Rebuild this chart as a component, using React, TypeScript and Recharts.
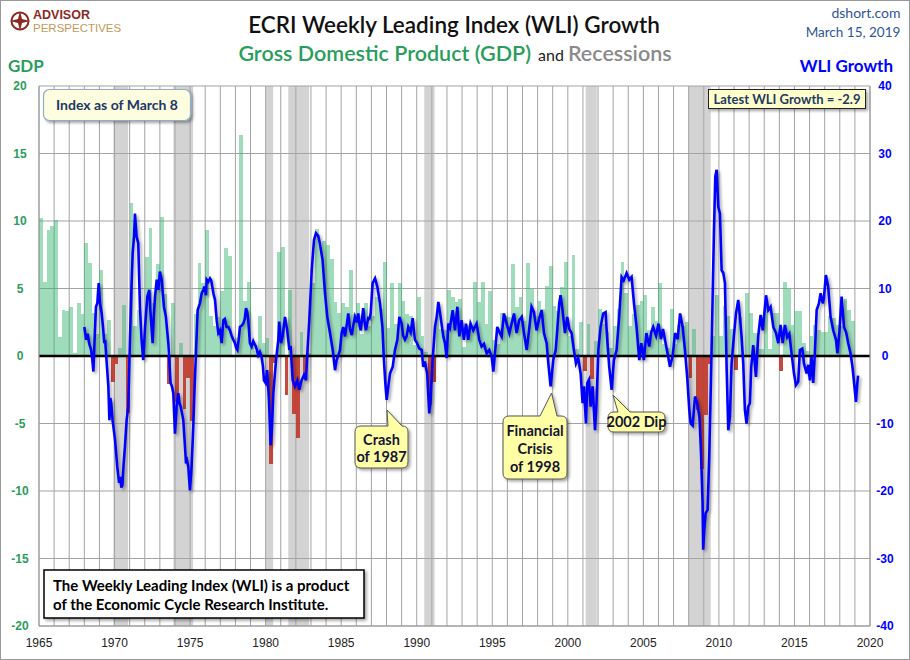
import React from 'react';
import {
  ComposedChart,
  Bar,
  Line,
  XAxis,
  YAxis,
  CartesianGrid,
  ReferenceArea,
  ReferenceLine,
} from 'recharts';

// ---------- DATA ----------
const START_YEAR = 1965;

// Real GDP growth, quarterly annualized (%), 1965Q1 ...
const gdp1965to1974 = [
  10.2, 5.5, 9.3, 9.6, 10.1, 1.4, 3.4, 3.3, 3.6, 0.2, 3.9, 3.1, 8.4, 6.9, 3.2, 1.6,
  6.4, 1.6, 2.7, -1.9, -0.6, 0.6, 3.8, -4.2, 11.3, 2.2, 3.4, 1.1, 7.3, 9.5, 3.9, 6.8,
  10.3, 4.6, -2.1, 3.9, -3.4, 1.0, -3.9, -1.6,
];
const gdp1975to1984 = [
  -4.8, 3.1, 6.9, 5.4, 9.3, 3.0, 2.2, 2.9, 4.8, 8.0, 7.4, 0.0, 1.3, 16.4, 4.1, 5.5,
  0.7, 0.4, 3.0, 1.0, 1.3, -8.0, -0.5, 7.7, 8.1, -2.9, 4.9, -4.3, -6.1, 1.8, -1.5, 0.2,
  5.4, 9.4, 8.1, 8.5, 8.2, 7.2, 4.0, 3.2,
];
const gdp1985to1994 = [
  3.9, 3.6, 6.4, 3.1, 3.9, 1.6, 3.9, 2.2, 3.0, 4.4, 3.5, 7.0, 2.1, 5.4, 2.4, 5.4,
  4.1, 3.1, 3.0, 0.8, 4.4, 1.5, 0.3, -3.6, -1.9, 3.2, 2.0, 1.9, 4.9, 4.4, 4.0, 4.2,
  0.7, 2.3, 1.9, 5.5, 4.0, 5.5, 2.4, 4.8,
];
const gdp1995to2004 = [
  1.2, 0.9, 3.2, 3.0, 2.9, 6.8, 3.6, 4.4, 2.6, 6.9, 5.0, 3.0, 4.1, 3.5, 5.2, 6.7,
  3.7, 3.3, 5.1, 7.0, 1.5, 7.5, 0.5, 2.5, -1.1, 2.4, -1.7, 1.1, 3.5, 2.4, 1.8, 0.6,
  2.2, 3.5, 7.0, 4.7, 2.2, 3.1, 3.8, 4.1,
];
const gdp2005to2018 = [
  4.5, 1.9, 3.6, 2.6, 5.4, 0.9, 0.6, 3.5, 0.9, 2.3, 2.2, 2.5, -1.6, 2.0, -4.0, -8.4,
  -4.4, -0.6, 1.5, 4.5, 1.5, 3.7, 3.0, 2.0, -1.0, 2.9, -0.1, 4.7, 3.2, 1.7, 0.5, 0.5,
  3.6, 0.5, 3.2, 3.2, -1.1, 5.5, 5.0, 2.3, 3.3, 3.3, 1.0, 0.4, 1.5, 2.3, 1.9, 1.8,
  1.8, 3.0, 2.8, 2.3, 2.2, 4.2, 3.4, 2.6,
];

// ECRI WLI growth (%), [year, value]
const wli1968to1975: [number, number][] = [
  [1968.0, 4.3], [1968.12, 2.4], [1968.22, 3.3], [1968.33, 1.8], [1968.44, 1.0], [1968.52, -0.3],
  [1968.6, -2.3], [1968.68, 2.5], [1968.77, 7.3], [1968.86, 7.8], [1968.95, 10.8], [1969.04, 7.8],
  [1969.15, 6.3], [1969.25, 4.0], [1969.32, 1.9], [1969.38, 2.4], [1969.48, -1.0], [1969.59, -4.5],
  [1969.66, -9.5], [1969.72, -6.2], [1969.78, -7.0], [1969.87, -9.5], [1970.03, -12.4], [1970.18, -16.4],
  [1970.3, -18.8], [1970.38, -17.9], [1970.45, -19.5], [1970.52, -19.1], [1970.6, -16.0], [1970.69, -13.4],
  [1970.8, -9.5], [1970.91, -7.5], [1971.02, 2.4], [1971.13, 10.8], [1971.2, 15.2], [1971.29, 17.7],
  [1971.35, 21.1], [1971.4, 19.5], [1971.46, 17.7], [1971.57, 16.7], [1971.68, 7.3], [1971.79, 2.4],
  [1971.9, -0.6], [1972.02, 4.3], [1972.17, 8.8], [1972.3, 9.8], [1972.37, 6.8], [1972.52, 1.9],
  [1972.6, 6.0], [1972.68, 8.8], [1972.79, 11.3], [1972.9, 9.8], [1973.0, 12.5], [1973.12, 11.3],
  [1973.27, 7.3], [1973.4, 5.8], [1973.56, 1.9], [1973.71, -4.0], [1973.8, -4.5], [1973.89, -5.5],
  [1974.0, -11.5], [1974.11, -7.5], [1974.22, -5.5], [1974.3, -7.0], [1974.38, -7.5], [1974.55, -9.5],
  [1974.65, -13.0], [1974.73, -15.9], [1974.8, -15.5], [1974.88, -16.4], [1974.99, -19.9], [1975.1, -16.4],
  [1975.21, -10.5], [1975.3, -4.5], [1975.37, -0.6], [1975.5, 6.8], [1975.65, 7.8], [1975.77, 9.3],
  [1975.88, 9.8],
];
const wli1976to1985: [number, number][] = [
  [1975.94, 10.3], [1976.05, 9.0], [1976.1, 11.3], [1976.2, 11.0], [1976.32, 11.5], [1976.4, 11.2],
  [1976.54, 9.3], [1976.65, 8.3], [1976.76, 5.3], [1976.87, 3.4], [1976.98, 3.8], [1977.09, 1.9],
  [1977.2, 5.3], [1977.3, 5.5], [1977.42, 4.3], [1977.54, 4.3], [1977.64, 3.8], [1977.75, 3.0],
  [1977.86, 2.4], [1977.97, 1.9], [1978.05, 1.2], [1978.13, 0.9], [1978.22, 2.5], [1978.3, 4.3],
  [1978.42, 4.5], [1978.52, 4.8], [1978.62, 5.5], [1978.7, 7.1], [1978.78, 6.5], [1978.85, 5.3],
  [1978.96, 1.9], [1979.07, 1.4], [1979.18, 2.2], [1979.28, 1.7], [1979.36, 1.4], [1979.51, 0.1],
  [1979.62, 0.6], [1979.73, -0.1], [1979.82, -1.5], [1979.89, -3.6], [1980.0, -4.0], [1980.1, -2.1],
  [1980.22, -6.5], [1980.33, -13.2], [1980.41, -11.0], [1980.51, -5.5], [1980.6, -3.0], [1980.69, -0.6],
  [1980.84, 2.4], [1980.9, 5.1], [1981.02, 1.9], [1981.13, 3.0], [1981.28, 5.8], [1981.43, 3.8],
  [1981.57, 0.9], [1981.65, 1.5], [1981.79, -3.6], [1981.94, -4.5], [1982.1, -3.6], [1982.23, -5.0],
  [1982.38, -3.6], [1982.54, -2.8], [1982.67, -3.6], [1982.76, 0.4], [1982.89, 5.3], [1983.05, 12.7],
  [1983.2, 17.2], [1983.33, 18.2], [1983.48, 17.8], [1983.59, 16.7], [1983.77, 14.2], [1983.93, 9.3],
  [1984.08, 5.8], [1984.26, 3.4], [1984.44, 0.9], [1984.59, -2.1], [1984.7, -0.6], [1984.8, 0.0],
  [1984.92, 0.9], [1985.03, 3.4], [1985.14, 4.3], [1985.25, 2.9], [1985.36, 4.5], [1985.47, 6.3],
  [1985.58, 4.0], [1985.7, 3.1], [1985.8, 4.5], [1985.91, 5.8],
];
const wli1986to1995: [number, number][] = [
  [1986.03, 5.0], [1986.13, 6.3], [1986.22, 4.5], [1986.3, 3.8], [1986.38, 5.5], [1986.46, 7.1],
  [1986.55, 5.0], [1986.64, 3.8], [1986.72, 4.8], [1986.79, 5.6], [1986.87, 5.5], [1986.95, 6.3],
  [1987.08, 10.8], [1987.24, 11.5], [1987.39, 10.3], [1987.57, 7.8], [1987.73, 4.3], [1987.83, -0.6],
  [1987.92, -4.0], [1988.01, -6.5], [1988.12, -4.5], [1988.23, -2.6], [1988.41, -1.6], [1988.56, 0.9],
  [1988.72, 2.4], [1988.85, 5.8], [1989.0, 4.8], [1989.1, 3.0], [1989.22, 2.4], [1989.33, 2.9],
  [1989.44, 4.3], [1989.6, 3.5], [1989.73, 5.6], [1989.88, 2.4], [1990.0, 2.0], [1990.17, 1.1],
  [1990.33, 0.9], [1990.43, -1.6], [1990.54, -0.8], [1990.69, -2.6], [1990.83, -8.5], [1990.92, -6.5],
  [1991.05, -0.6], [1991.21, 4.3], [1991.32, 5.8], [1991.43, 8.0], [1991.58, 5.8], [1991.76, 2.9],
  [1991.87, 1.9], [1991.98, -0.3], [1992.09, 4.8], [1992.2, 4.2], [1992.38, 6.8], [1992.53, 3.8],
  [1992.69, 7.3], [1992.82, 2.9], [1992.97, 5.3], [1993.12, 2.4], [1993.26, 4.8], [1993.41, 2.4],
  [1993.56, 4.8], [1993.74, 3.8], [1993.96, 4.8], [1994.14, 2.4], [1994.29, 1.4], [1994.45, 1.8],
  [1994.63, 0.4], [1994.8, 0.9], [1994.96, -0.1], [1995.07, -2.3], [1995.18, 0.5], [1995.33, 4.3],
  [1995.48, 3.5], [1995.62, 2.9], [1995.77, 6.3], [1995.95, 4.8],
];
const wli1996to2005: [number, number][] = [
  [1996.13, 3.4], [1996.28, 4.8], [1996.44, 6.3], [1996.61, 3.4], [1996.78, 5.3], [1996.95, 5.8],
  [1997.1, 3.4], [1997.28, 0.9], [1997.46, 4.3], [1997.6, 7.3], [1997.76, 6.5], [1997.93, 3.8],
  [1998.1, 5.5], [1998.27, 6.8], [1998.42, 3.4], [1998.6, 1.9], [1998.71, -1.1], [1998.86, -4.5],
  [1999.04, -0.6], [1999.2, 0.9], [1999.3, 3.8], [1999.43, 7.8], [1999.52, 9.0], [1999.65, 6.8],
  [1999.81, 3.4], [1999.96, 5.8], [2000.1, 4.0], [2000.25, 3.4], [2000.4, 0.9], [2000.54, -1.1],
  [2000.69, -0.3], [2000.85, -2.6], [2000.98, -7.0], [2001.07, -4.5], [2001.2, -10.0], [2001.29, -4.0],
  [2001.4, -3.5], [2001.51, -7.5], [2001.64, -4.5], [2001.8, -11.0], [2001.91, -6.5], [2002.02, 0.9],
  [2002.17, 4.3], [2002.34, 6.3], [2002.5, 6.5], [2002.61, 2.4], [2002.74, -1.6], [2002.9, -5.0],
  [2003.05, -0.6], [2003.23, 0.9], [2003.4, 5.8], [2003.56, 11.7], [2003.7, 11.2], [2003.89, 12.3],
  [2004.07, 11.3], [2004.22, 11.7], [2004.38, 7.8], [2004.55, 4.3], [2004.73, -0.6], [2004.86, 1.9],
  [2005.03, -0.6], [2005.2, 3.4], [2005.39, 1.4], [2005.52, 3.5], [2005.65, 4.3], [2005.84, 3.0],
];
const wli2006to2012: [number, number][] = [
  [2006.0, 4.8], [2006.17, 2.5], [2006.3, 4.0], [2006.43, 2.4], [2006.6, 0.4], [2006.76, -1.6],
  [2006.94, 0.0], [2007.1, 3.4], [2007.27, 2.5], [2007.43, 6.3], [2007.6, 4.3], [2007.75, 0.9],
  [2007.9, -3.1], [2008.04, -8.0], [2008.13, -10.0], [2008.26, -10.3], [2008.42, -6.0], [2008.57, -7.0],
  [2008.71, -9.0], [2008.81, -13.9], [2008.92, -21.8], [2008.96, -28.7], [2009.03, -25.8], [2009.12, -23.3],
  [2009.25, -22.8], [2009.36, -14.9], [2009.47, -4.0], [2009.58, 8.3], [2009.67, 18.2], [2009.76, 26.6],
  [2009.85, 27.6], [2009.96, 22.1], [2010.07, 21.1], [2010.18, 12.7], [2010.29, 12.3], [2010.4, 10.8],
  [2010.51, -1.6], [2010.62, -11.0], [2010.73, -9.0], [2010.84, -1.1], [2010.99, 2.9], [2011.13, 6.3],
  [2011.28, 8.3], [2011.39, 5.8], [2011.5, 2.9], [2011.61, -1.1], [2011.72, -8.0], [2011.83, -10.0],
  [2011.94, -7.5], [2012.05, -7.0], [2012.14, -1.6], [2012.27, 1.6], [2012.45, -3.1], [2012.6, 2.9],
  [2012.76, 6.1], [2012.9, 3.8],
];
const wli2013to2019: [number, number][] = [
  [2013.12, 9.0], [2013.27, 6.8], [2013.42, 7.3], [2013.6, 4.3], [2013.78, 3.4], [2013.93, 1.9],
  [2014.08, 4.6], [2014.22, 1.9], [2014.37, 4.6], [2014.52, 2.8], [2014.66, 3.3], [2014.81, 0.4],
  [2014.97, -2.6], [2015.1, -4.3], [2015.25, -3.8], [2015.36, 0.9], [2015.52, 1.1], [2015.63, -1.1],
  [2015.8, -2.6], [2015.91, -1.3], [2016.02, -3.6], [2016.13, -0.1], [2016.24, -4.0], [2016.35, 0.4],
  [2016.47, 6.8], [2016.62, 7.8], [2016.73, 9.3], [2016.87, 7.8], [2016.95, 8.6], [2017.08, 12.0],
  [2017.23, 10.3], [2017.39, 5.8], [2017.57, 3.8], [2017.75, 2.4], [2017.84, 0.4], [2017.97, 3.4],
  [2018.12, 8.8], [2018.28, 4.3], [2018.42, 3.5], [2018.56, 1.9], [2018.71, 0.4], [2018.84, -1.6],
  [2018.93, -3.6], [2019.07, -6.8], [2019.15, -4.3], [2019.21, -2.9],
];

// NBER recessions [start, end] in fractional years
const recessions: [number, number][] = [
  [1969.92, 1970.9], [1973.9, 1975.2], [1980.0, 1980.5], [1981.5, 1982.88],
  [1990.5, 1991.18], [2001.18, 2001.92], [2007.96, 2009.46],
];

const gdpTicks = [-20, -15, -10, -5, 0, 5, 10, 15, 20];
const wliTicks = [-40, -30, -20, -10, 0, 10, 20, 30, 40];
const yearTicks = [
  1965, 1966, 1967, 1968, 1969, 1970, 1971, 1972, 1973, 1974, 1975, 1976, 1977, 1978,
  1979, 1980, 1981, 1982, 1983, 1984, 1985, 1986, 1987, 1988, 1989, 1990, 1991, 1992,
  1993, 1994, 1995, 1996, 1997, 1998, 1999, 2000, 2001, 2002, 2003, 2004, 2005, 2006,
  2007, 2008, 2009, 2010, 2011, 2012, 2013, 2014, 2015, 2016, 2017, 2018, 2019, 2020,
];
const yearLabels = [1965, 1970, 1975, 1980, 1985, 1990, 1995, 2000, 2005, 2010, 2015, 2020];

const latestWli = -2.9;

// ---------- BUILD ----------
const gdpAll = [...gdp1965to1974, ...gdp1975to1984, ...gdp1985to1994, ...gdp1995to2004, ...gdp2005to2018];
const gdpData = gdpAll.map((v, i) => ({ x: START_YEAR + i / 4 + 0.125, gdp: v }));
const wliData = [
  ...wli1968to1975, ...wli1976to1985, ...wli1986to1995, ...wli1996to2005, ...wli2006to2012, ...wli2013to2019,
].map(([x, v]) => ({ x, wli: v }));

const FONT = 'Lato, "Noto Sans", sans-serif';
const GREEN = '#2a9d5c';
const BLUE = '#0000ff';

const XTick = (props: any) => {
  const { x, y, payload } = props;
  if (!yearLabels.includes(payload.value)) return <g />;
  return (
    <text x={x} y={y + 21} textAnchor="middle" fontSize={12} fill="#222" fontFamily="'Liberation Sans', Arial, sans-serif">
      {payload.value}
    </text>
  );
};
const LeftTick = (props: any) => {
  const { x, y, payload } = props;
  return (
    <text x={x - 19} y={y + 4} textAnchor="middle" fontSize={12} fontWeight="bold" fill={GREEN} fontFamily="'Liberation Sans', Arial, sans-serif">
      {payload.value}
    </text>
  );
};
const RightTick = (props: any) => {
  const { x, y, payload } = props;
  return (
    <text x={x + 15} y={y + 4} textAnchor="middle" fontSize={12} fontWeight="bold" fill={BLUE} fontFamily="'Liberation Sans', Arial, sans-serif">
      {payload.value}
    </text>
  );
};

// quarter bars snapped to whole pixels so neighbours meet without seams
const GdpBar = (props: any) => {
  const { x, y, width, height, payload } = props;
  if (x == null || y == null || !isFinite(height)) return <g />;
  const x0 = Math.round(x);
  const x1 = Math.round(x + width + 0.08);
  const top = Math.min(y, y + height);
  const h = Math.abs(height);
  const pos = payload && payload.gdp >= 0;
  return (
    <rect
      x={x0}
      y={top}
      width={Math.max(1, x1 - x0)}
      height={h}
      fill={pos ? '#2eb36a' : '#c0392b'}
      fillOpacity={pos ? 0.46 : 0.92}
      shapeRendering="crispEdges"
    />
  );
};

function calloutPath(x: number, y: number, w: number, h: number, b0: number, b1: number, tx: number, ty: number) {
  const r = 6;
  return `M ${x + r} ${y} L ${b0} ${y} L ${tx} ${ty} L ${b1} ${y} L ${x + w - r} ${y} Q ${x + w} ${y} ${x + w} ${y + r} L ${x + w} ${y + h - r} Q ${x + w} ${y + h} ${x + w - r} ${y + h} L ${x + r} ${y + h} Q ${x} ${y + h} ${x} ${y + h - r} L ${x} ${y + r} Q ${x} ${y} ${x + r} ${y} Z`;
}

const Callout = ({ box, base, tip, lines, lineYs, cx }: any) => (
  <g>
    <path
      d={calloutPath(box[0], box[1], box[2], box[3], base[0], base[1], tip[0], tip[1])}
      fill="#ffffa6"
      stroke="#555"
      strokeWidth={1}
      filter="url(#shadow)"
    />
    {lines.map((t: string, i: number) => (
      <text key={i} x={cx} y={lineYs[i]} textAnchor="middle" fontSize={14.5} fontWeight="bold" fill="#151530" fontFamily={FONT}>
        {t}
      </text>
    ))}
  </g>
);

export default function App() {
  return (
    <div style={{ position: 'absolute', left: 0, top: 0, width: 910, height: 660, background: '#fff', overflow: 'hidden' }}>
      <ComposedChart
        width={910}
        height={660}
        data={gdpData}
        margin={{ top: 86, right: 0, bottom: 0, left: 0 }}
      >
        <CartesianGrid yAxisId="gdp" stroke="#a3a3a3" strokeWidth={1} />
        {recessions.map(([a, b], i) => (
          <ReferenceArea key={i} x1={a} x2={b} yAxisId="gdp" y1={-20} y2={20} fill="#a8a8a8" fillOpacity={0.5} stroke="none" />
        ))}
        <XAxis
          dataKey="x"
          type="number"
          domain={[1965, 2020]}
          ticks={yearTicks}
          interval={0}
          allowDataOverflow
          height={34}
          tickSize={0}
          tickMargin={0}
          tickLine={false}
          axisLine={{ stroke: '#999' }}
          tick={XTick}
        />
        <XAxis xAxisId="q" dataKey="x" type="number" domain={[1965, 2020]} allowDataOverflow hide />
        <YAxis
          yAxisId="gdp"
          orientation="left"
          domain={[-20, 20]}
          ticks={gdpTicks}
          interval={0}
          width={39}
          tickSize={0}
          tickMargin={0}
          tickLine={false}
          axisLine={{ stroke: '#999' }}
          tick={LeftTick}
          allowDataOverflow
        />
        <YAxis
          yAxisId="wli"
          orientation="right"
          domain={[-40, 40]}
          ticks={wliTicks}
          interval={0}
          width={40}
          tickSize={0}
          tickMargin={0}
          tickLine={false}
          axisLine={{ stroke: '#999' }}
          tick={RightTick}
          allowDataOverflow
        />
        <Bar dataKey="gdp" xAxisId="q" yAxisId="gdp" barSize={3.7} isAnimationActive={false} shape={GdpBar} />
        <ReferenceLine y={0} yAxisId="gdp" stroke="#000" strokeWidth={2.5} />
        <Line
          data={wliData}
          dataKey="wli"
          yAxisId="wli"
          type="linear"
          stroke={BLUE}
          strokeWidth={2.6}
          dot={false}
          activeDot={false}
          isAnimationActive={false}
          style={{ filter: 'drop-shadow(2px 2px 1.5px rgba(0,0,0,0.35))' }}
        />
      </ComposedChart>

      <svg width={910} height={660} style={{ position: 'absolute', left: 0, top: 0, pointerEvents: 'none' }}>
        <defs>
          <filter id="shadow" x="-10%" y="-10%" width="130%" height="140%">
            <feDropShadow dx="2" dy="2" stdDeviation="1.5" floodColor="#000" floodOpacity="0.35" />
          </filter>
        </defs>
        <rect x={0.5} y={0.5} width={909} height={659} fill="none" stroke="#999" />

        {/* logo */}
        <circle cx={20} cy={21} r={8.5} fill="none" stroke="#8b2a22" strokeWidth={2} />
        <path d="M 20 11 L 22 19 L 30 21 L 22 23 L 20 31 L 18 23 L 10 21 L 18 19 Z" fill="#8b2a22" />
        <text x={33} y={19} fontSize={12.5} fontWeight="bold" fill="#8b2a22" fontFamily="'Liberation Sans', Arial, sans-serif">ADVISOR</text>
        <text x={33} y={32} fontSize={11.5} fill="#c49a5a" fontFamily="'Liberation Sans', Arial, sans-serif">PERSPECTIVES</text>

        {/* titles */}
        <text x={454} y={33} textAnchor="middle" fontSize={22.5} fontWeight={600} fill="#111" fontFamily={FONT}>
          ECRI Weekly Leading Index (WLI) Growth
        </text>
        <text x={455} y={61} textAnchor="middle" fontFamily={FONT}>
          <tspan fontSize={21.5} fontWeight={600} fill={GREEN}>Gross Domestic Product (GDP)</tspan>
          <tspan fontSize={16} fill="#222" dx={7}>and</tspan>
          <tspan fontSize={21.5} fontWeight={600} fill="#8a8a8a" dx={4}>Recessions</tspan>
        </text>
        <text x={866} y={18} textAnchor="middle" fontSize={14} fill="#2f5597" fontFamily={FONT}>dshort.com</text>
        <text x={853} y={37} textAnchor="middle" fontSize={13.5} fill="#2f5597" fontFamily={FONT}>March 15, 2019</text>

        <text x={8} y={72} fontSize={17} fontWeight="bold" fill={GREEN} fontFamily={FONT}>GDP</text>
        <text x={893} y={72} textAnchor="end" fontSize={17} fontWeight="bold" fill={BLUE} fontFamily={FONT}>WLI Growth</text>

        {/* info boxes */}
        <rect x={43.5} y={89.5} width={147} height={31} rx={6} fill="#fdfde0" stroke="#93abc9" strokeWidth={1.2} filter="url(#shadow)" />
        <text x={117} y={110} textAnchor="middle" fontSize={14} fontWeight="bold" fill="#1f3864" fontFamily={FONT}>Index as of March 8</text>

        <rect x={708.5} y={89.5} width={157} height={19} fill="#ffffcc" stroke="#222" strokeWidth={1} filter="url(#shadow)" />
        <text x={787} y={104} textAnchor="middle" fontSize={13} fontWeight="bold" fill="#1f3864" fontFamily={FONT}>
          {`Latest WLI Growth = ${latestWli}`}
        </text>

        <Callout box={[355, 426, 53, 42]} base={[388, 402]} tip={[387, 410]} lines={['Crash', 'of 1987']} lineYs={[445, 462]} cx={381.5} />
        <Callout box={[503, 416, 64, 63]} base={[540, 557]} tip={[551.5, 393]} lines={['Financial', 'Crisis', 'of 1998']} lineYs={[436, 454, 472]} cx={535} />
        <Callout box={[608, 412, 57, 20]} base={[618, 630]} tip={[613, 395]} lines={['2002 Dip']} lineYs={[427]} cx={636.5} />

        {/* footer box */}
        <rect x={44} y={570} width={320} height={48} fill="#fff" stroke="#000" strokeWidth={1.5} filter="url(#shadow)" />
        <text x={53} y={591} fontSize={15} fontWeight="bold" fill="#000" fontFamily={FONT}>The Weekly Leading Index (WLI) is a product</text>
        <text x={53} y={610} fontSize={15} fontWeight="bold" fill="#000" fontFamily={FONT}>of the Economic Cycle Research Institute.</text>
      </svg>
    </div>
  );
}
